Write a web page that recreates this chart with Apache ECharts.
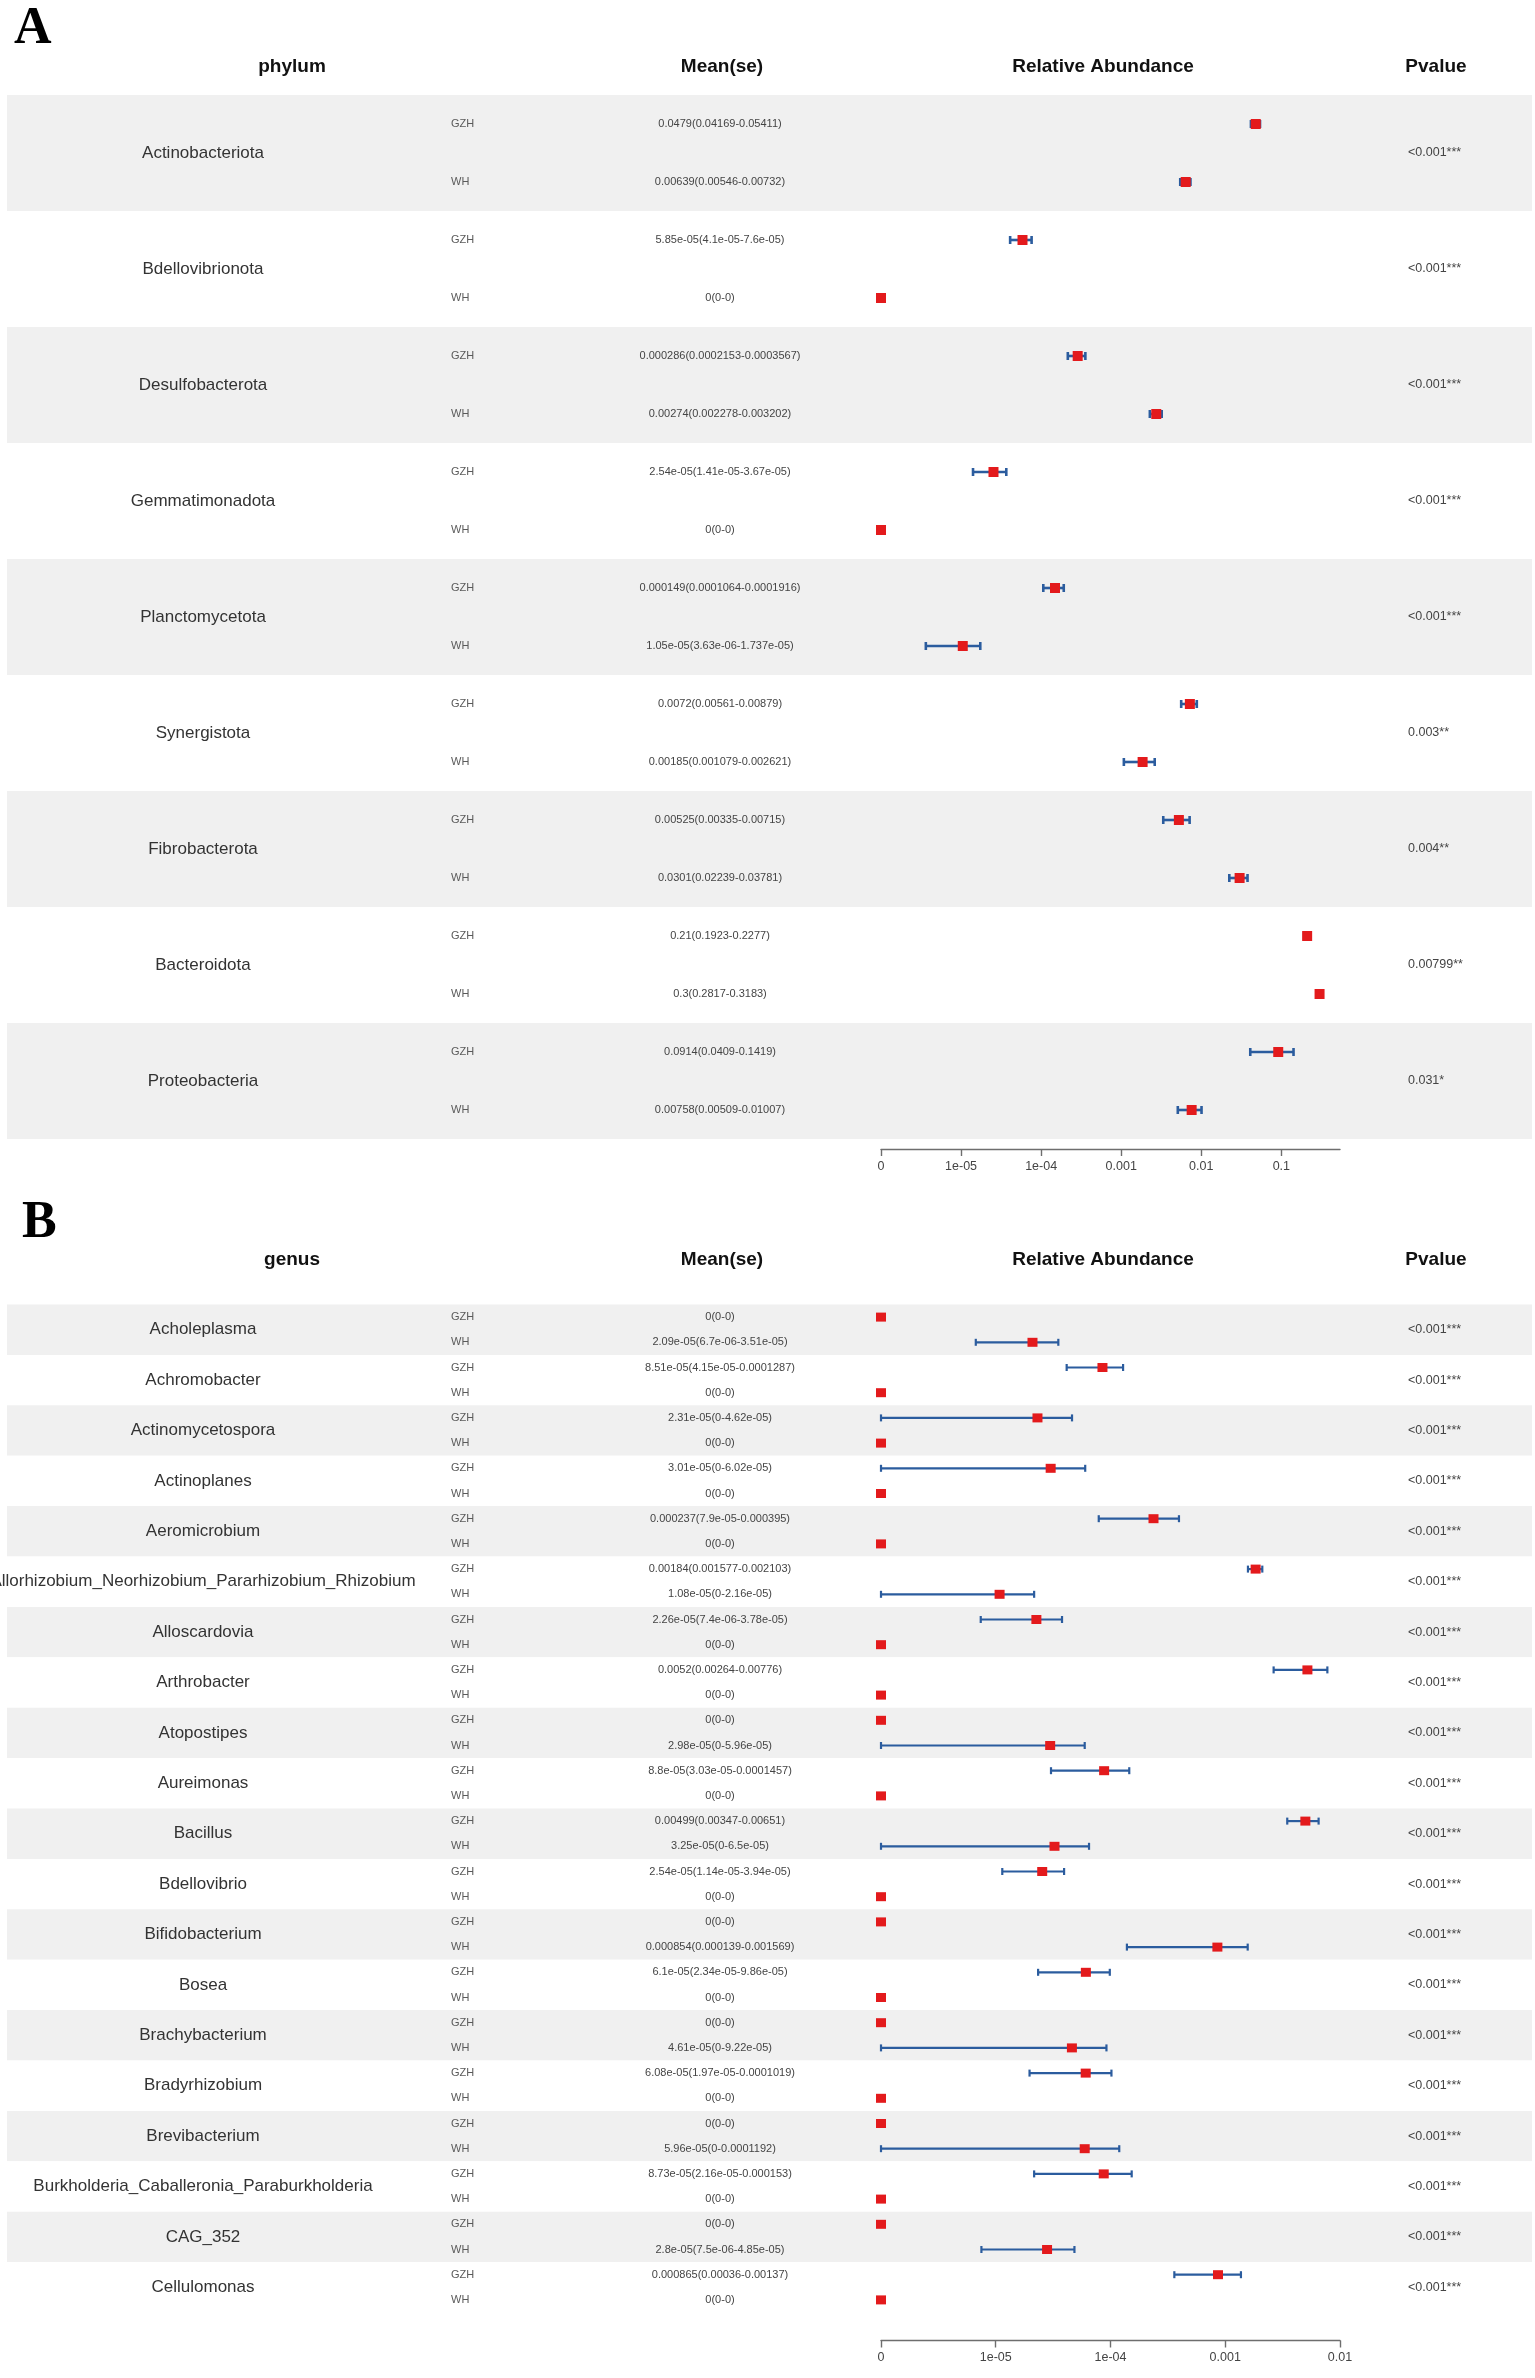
<!DOCTYPE html>
<html>
<head>
<meta charset="utf-8">
<script src="https://cdn.jsdelivr.net/npm/echarts@6/dist/echarts.min.js"></script>
<style>
  html, body { margin: 0; padding: 0; background: #ffffff; }
  #chart { width: 1535px; height: 2378px; }
</style>
</head>
<body>
<div id="chart"></div>
<script>
// ---------------- Panel A data (phylum) ----------------
const phylumNames = ['Actinobacteriota','Bdellovibrionota','Desulfobacterota','Gemmatimonadota','Planctomycetota','Synergistota','Fibrobacterota','Bacteroidota','Proteobacteria'];
const phylumPvalues = ['<0.001***','<0.001***','<0.001***','<0.001***','<0.001***','0.003**','0.004**','0.00799**','0.031*'];
const phylumGzhMean = [0.0479, 5.85e-05, 0.000286, 2.54e-05, 0.000149, 0.0072, 0.00525, 0.21, 0.0914];
const phylumGzhLow  = [0.04169, 4.1e-05, 0.0002153, 1.41e-05, 0.0001064, 0.00561, 0.00335, 0.1923, 0.0409];
const phylumGzhHigh = [0.05411, 7.6e-05, 0.0003567, 3.67e-05, 0.0001916, 0.00879, 0.00715, 0.2277, 0.1419];
const phylumWhMean  = [0.00639, 0, 0.00274, 0, 1.05e-05, 0.00185, 0.0301, 0.3, 0.00758];
const phylumWhLow   = [0.00546, 0, 0.002278, 0, 3.63e-06, 0.001079, 0.02239, 0.2817, 0.00509];
const phylumWhHigh  = [0.00732, 0, 0.003202, 0, 1.737e-05, 0.002621, 0.03781, 0.3183, 0.01007];

// ---------------- Panel B data (genus) ----------------
const genusNames = ['Acholeplasma','Achromobacter','Actinomycetospora','Actinoplanes','Aeromicrobium','Allorhizobium_Neorhizobium_Pararhizobium_Rhizobium','Alloscardovia','Arthrobacter','Atopostipes','Aureimonas','Bacillus','Bdellovibrio','Bifidobacterium','Bosea','Brachybacterium','Bradyrhizobium','Brevibacterium','Burkholderia_Caballeronia_Paraburkholderia','CAG_352','Cellulomonas'];
const genusPvalues = ['<0.001***','<0.001***','<0.001***','<0.001***','<0.001***','<0.001***','<0.001***','<0.001***','<0.001***','<0.001***','<0.001***','<0.001***','<0.001***','<0.001***','<0.001***','<0.001***','<0.001***','<0.001***','<0.001***','<0.001***'];
const genusGzhMean = [0, 8.51e-05, 2.31e-05, 3.01e-05, 0.000237, 0.00184, 2.26e-05, 0.0052, 0, 8.8e-05, 0.00499, 2.54e-05, 0, 6.1e-05, 0, 6.08e-05, 0, 8.73e-05, 0, 0.000865];
const genusGzhLow  = [0, 4.15e-05, 0, 0, 7.9e-05, 0.001577, 7.4e-06, 0.00264, 0, 3.03e-05, 0.00347, 1.14e-05, 0, 2.34e-05, 0, 1.97e-05, 0, 2.16e-05, 0, 0.00036];
const genusGzhHigh = [0, 0.0001287, 4.62e-05, 6.02e-05, 0.000395, 0.002103, 3.78e-05, 0.00776, 0, 0.0001457, 0.00651, 3.94e-05, 0, 9.86e-05, 0, 0.0001019, 0, 0.000153, 0, 0.00137];
const genusWhMean  = [2.09e-05, 0, 0, 0, 0, 1.08e-05, 0, 0, 2.98e-05, 0, 3.25e-05, 0, 0.000854, 0, 4.61e-05, 0, 5.96e-05, 0, 2.8e-05, 0];
const genusWhLow   = [6.7e-06, 0, 0, 0, 0, 0, 0, 0, 0, 0, 0, 0, 0.000139, 0, 0, 0, 0, 0, 7.5e-06, 0];
const genusWhHigh  = [3.51e-05, 0, 0, 0, 0, 2.16e-05, 0, 0, 5.96e-05, 0, 6.5e-05, 0, 0.001569, 0, 9.22e-05, 0, 0.0001192, 0, 4.85e-05, 0];

// ---------------- Axis ticks ----------------
const groupLabels = ['GZH', 'WH'];
const tickValuesA = [1e-6, 1e-5, 1e-4, 1e-3, 1e-2, 1e-1];
const tickLabelsA = ['0', '1e-05', '1e-04', '0.001', '0.01', '0.1'];
const tickValuesB = [1e-6, 1e-5, 1e-4, 1e-3, 1e-2];
const tickLabelsB = ['0', '1e-05', '1e-04', '0.001', '0.01'];
const AXIS_ZERO = 1e-6;   // position where "0" is drawn on the log axis
const AXIS_MAX_A = 0.54;
const AXIS_MAX_B = 0.01;

// ---------------- helpers ----------------
const RED = '#e31a1c';
const BLUE = '#2b5c9e';
const FONT = '"Liberation Sans", Arial, Helvetica, sans-serif';
const toAxis = v => (v > 0 ? v : AXIS_ZERO);

function rFormat(v) {
  if (v === 0) return '0';
  const fixed = String(v);
  const sci = v.toExponential().replace(/e([+-])(\d)$/, 'e$10$2');
  return fixed.length <= sci.length ? fixed : sci;
}

function buildRows(gm, gl, gh, wm, wl, wh) {
  const rows = [];
  for (let i = 0; i < gm.length; i++) {
    rows.push({ grp: groupLabels[0], mean: gm[i], lo: gl[i], hi: gh[i] });
    rows.push({ grp: groupLabels[1], mean: wm[i], lo: wl[i], hi: wh[i] });
  }
  return rows;
}

const rowsA = buildRows(phylumGzhMean, phylumGzhLow, phylumGzhHigh, phylumWhMean, phylumWhLow, phylumWhHigh);
const rowsB = buildRows(genusGzhMean, genusGzhLow, genusGzhHigh, genusWhMean, genusWhLow, genusWhHigh);

function labelFormatter(ticks, labels) {
  return function (v) {
    const i = ticks.findIndex(t => Math.abs(Math.log10(t) - Math.log10(v)) < 1e-6);
    return i >= 0 ? labels[i] : '';
  };
}

function errorSeries(rows, xIdx, yIdx, lw, capH) {
  const data = [];
  rows.forEach((r, i) => { if (r.hi > r.lo) data.push([toAxis(r.lo), toAxis(r.hi), i]); });
  return {
    type: 'custom', xAxisIndex: xIdx, yAxisIndex: yIdx, z: 3,
    encode: { x: [0, 1], y: 2 },
    data: data,
    renderItem: function (params, api) {
      const row = api.value(2);
      const a = api.coord([api.value(0), row]);
      const b = api.coord([api.value(1), row]);
      const h = capH / 2;
      const st = { stroke: BLUE, lineWidth: lw };
      return {
        type: 'group',
        children: [
          { type: 'line', shape: { x1: a[0], y1: a[1], x2: b[0], y2: b[1] }, style: st },
          { type: 'line', shape: { x1: a[0], y1: a[1] - h, x2: a[0], y2: a[1] + h }, style: st },
          { type: 'line', shape: { x1: b[0], y1: b[1] - h, x2: b[0], y2: b[1] + h }, style: st }
        ]
      };
    }
  };
}

function markerSeries(rows, xIdx, yIdx, size) {
  return {
    type: 'scatter', xAxisIndex: xIdx, yAxisIndex: yIdx, z: 5,
    symbol: 'rect', symbolSize: size,
    itemStyle: { color: RED, opacity: 1 },
    data: rows.map((r, i) => [toAxis(r.mean), i])
  };
}

function logXAxis(gridIndex, max, offset, ticks, labels) {
  return {
    gridIndex: gridIndex, type: 'log', logBase: 10, min: AXIS_ZERO, max: max,
    position: 'bottom', offset: offset,
    axisLine: { show: true, lineStyle: { color: '#6e6e6e', width: 1.4 } },
    axisTick: { show: true, length: 7, customValues: ticks, lineStyle: { color: '#6e6e6e', width: 1.4 } },
    axisLabel: { show: true, customValues: ticks, formatter: labelFormatter(ticks, labels), color: '#444', fontSize: 12.5, margin: 11, fontFamily: FONT },
    splitLine: { show: false }
  };
}

const hiddenX = gi => ({ gridIndex: gi, type: 'value', min: 0, max: 1, show: false });

function nameAxis(gi, names, offset) {
  return {
    gridIndex: gi, type: 'category', data: names, inverse: true, position: 'left', offset: offset,
    axisLine: { show: false }, axisTick: { show: false }, splitLine: { show: false },
    axisLabel: { interval: 0, align: 'center', margin: 0, color: '#333', fontSize: 17, fontFamily: FONT },
    splitArea: { show: true, interval: 0, areaStyle: { color: ['#f0f0f0', '#ffffff'] } }
  };
}
function pAxis(gi, pv, offset) {
  return {
    gridIndex: gi, type: 'category', data: pv, inverse: true, position: 'right', offset: offset,
    axisLine: { show: false }, axisTick: { show: false }, splitLine: { show: false },
    axisLabel: { interval: 0, align: 'left', margin: 0, color: '#444', fontSize: 12.5, fontFamily: FONT }
  };
}
function rowAxis(gi, labels, offset, align, color) {
  return {
    gridIndex: gi, type: 'category', data: labels, inverse: true, position: 'left', offset: offset,
    axisLine: { show: false }, axisTick: { show: false }, splitLine: { show: false },
    axisLabel: { interval: 0, align: align, margin: 0, color: color, fontSize: 11, fontFamily: FONT }
  };
}

const meanLabel = r => rFormat(r.mean) + '(' + rFormat(r.lo) + '-' + rFormat(r.hi) + ')';

const BG_LEFT = 7, BG_WIDTH = 1525;
const PLOT_LEFT = 881, PLOT_WIDTH = 459;
const TOP_A = 95, H_A = 1044;
const TOP_B = 1304.5, H_B = 1008;

const NAME_X = 203, P_X = 1408, GRP_X = 451, MEAN_X = 720;

function headerTexts(y) {
  const mk = (t, x) => ({
    type: 'text',
    style: { text: t, x: x, y: y, fill: '#111', font: 'bold 19px ' + FONT, align: 'center', verticalAlign: 'middle' }
  });
  return [mk('Relative Abundance', 1103), mk('Pvalue', 1436), mk('Mean(se)', 722)];
}

const gridBox = (left, top, width, height) => ({ left, top, width, height, containLabel: false, outerBoundsMode: 'none' });

const option = {
  animation: false,
  backgroundColor: '#ffffff',
  textStyle: { fontFamily: FONT },
  grid: [
    gridBox(BG_LEFT, TOP_A, BG_WIDTH, H_A),
    gridBox(PLOT_LEFT, TOP_A, PLOT_WIDTH, H_A),
    gridBox(BG_LEFT, TOP_B, BG_WIDTH, H_B),
    gridBox(PLOT_LEFT, TOP_B, PLOT_WIDTH, H_B)
  ],
  xAxis: [
    hiddenX(0),
    logXAxis(1, AXIS_MAX_A, 10, tickValuesA, tickLabelsA),
    hiddenX(2),
    logXAxis(3, AXIS_MAX_B, 28, tickValuesB, tickLabelsB)
  ],
  yAxis: [
    nameAxis(0, phylumNames, -(NAME_X - BG_LEFT)),
    pAxis(0, phylumPvalues, -(BG_LEFT + BG_WIDTH - P_X)),
    rowAxis(1, rowsA.map(r => r.grp), PLOT_LEFT - GRP_X, 'left', '#5a5a5a'),
    rowAxis(1, rowsA.map(meanLabel), PLOT_LEFT - MEAN_X, 'center', '#444'),
    nameAxis(2, genusNames, -(NAME_X - BG_LEFT)),
    pAxis(2, genusPvalues, -(BG_LEFT + BG_WIDTH - P_X)),
    rowAxis(3, rowsB.map(r => r.grp), PLOT_LEFT - GRP_X, 'left', '#5a5a5a'),
    rowAxis(3, rowsB.map(meanLabel), PLOT_LEFT - MEAN_X, 'center', '#444')
  ],
  graphic: [
    { type: 'text', style: { text: 'A', x: 14, y: 30, fill: '#000', font: 'bold 52px "Liberation Serif", "Times New Roman", serif', align: 'left', verticalAlign: 'middle' } },
    { type: 'text', style: { text: 'phylum', x: 292, y: 67, fill: '#111', font: 'bold 19px ' + FONT, align: 'center', verticalAlign: 'middle' } },
    ...headerTexts(67),
    { type: 'text', style: { text: 'B', x: 22, y: 1224, fill: '#000', font: 'bold 52px "Liberation Serif", "Times New Roman", serif', align: 'left', verticalAlign: 'middle' } },
    { type: 'text', style: { text: 'genus', x: 292, y: 1260, fill: '#111', font: 'bold 19px ' + FONT, align: 'center', verticalAlign: 'middle' } },
    ...headerTexts(1260)
  ],
  series: [
    errorSeries(rowsA, 1, 2, 2.6, 8),
    markerSeries(rowsA, 1, 2, [10, 10]),
    errorSeries(rowsB, 3, 6, 2.2, 7),
    markerSeries(rowsB, 3, 6, [10, 9])
  ]
};

const chart = echarts.init(document.getElementById('chart'), null, { renderer: 'canvas' });
chart.setOption(option);
</script>
</body>
</html>
